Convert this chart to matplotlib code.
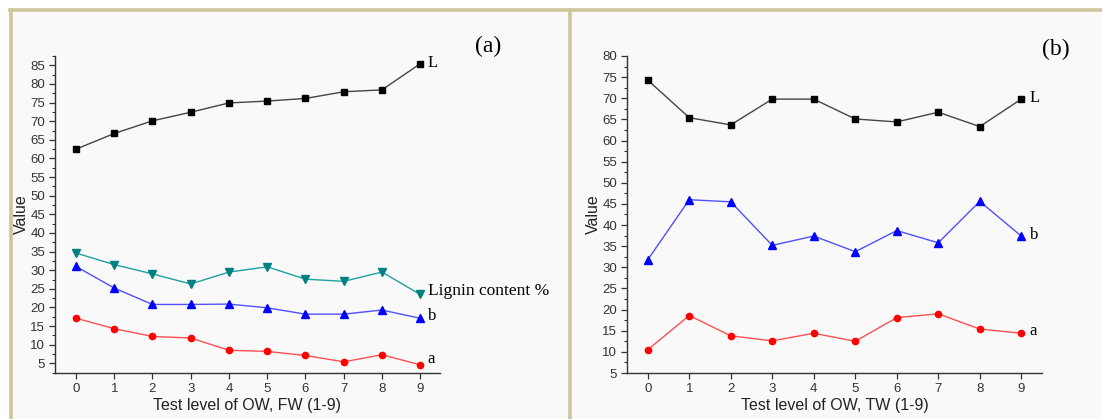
import matplotlib
matplotlib.use("Agg")
import matplotlib.pyplot as plt
from matplotlib.lines import Line2D
from matplotlib.ticker import MultipleLocator

# test levels shared by both panels
levels = [0, 1, 2, 3, 4, 5, 6, 7, 8, 9]

# panel (a): OW, FW
fw_L = [62.5, 66.7, 70.1, 72.4, 74.9, 75.4, 76.1, 77.9, 78.4, 85.4]
fw_lignin = [34.6, 31.5, 29.0, 26.3, 29.5, 30.9, 27.6, 27.0, 29.5, 23.5]
fw_b = [31.0, 25.2, 20.8, 20.8, 20.9, 19.9, 18.2, 18.2, 19.3, 17.1]
fw_a = [17.1, 14.3, 12.2, 11.8, 8.5, 8.2, 7.1, 5.4, 7.3, 4.6]

# panel (b): OW, TW
tw_L = [74.3, 65.4, 63.7, 69.8, 69.8, 65.1, 64.4, 66.7, 63.3, 69.8]
tw_b = [31.8, 46.0, 45.5, 35.2, 37.4, 33.7, 38.7, 35.8, 45.6, 37.4]
tw_a = [10.5, 18.6, 13.8, 12.6, 14.4, 12.5, 18.1, 19.0, 15.4, 14.4]

W, H = 1102, 419
fig = plt.figure(figsize=(W / 100, H / 100), dpi=100, facecolor="white")

# light panels with tan frame lines, kept behind the axes
bg = "#f9f9f9"
tan = "#cfc59c"
fig.add_artist(plt.Rectangle((10 / W, 0), (W - 10) / W, (H - 10) / H, zorder=-2,
                             transform=fig.transFigure, facecolor=bg, edgecolor="none"))
for xs, ys in [((10 / W, 1.0), (1 - 10 / H, 1 - 10 / H)),
               ((11 / W, 11 / W), (0, 1 - 10 / H)),
               ((570 / W, 570 / W), (0, 1 - 10 / H))]:
    fig.add_artist(Line2D(xs, ys, transform=fig.transFigure, color=tan, lw=2.6, zorder=-1))

serif = "Liberation Serif"
sans = "Liberation Sans"


def style_axes(ax, xlabel, ylim, yticks):
    ax.set_facecolor("none")
    for s in ["top", "right"]:
        ax.spines[s].set_visible(False)
    for s in ["left", "bottom"]:
        ax.spines[s].set_linewidth(1.0)
        ax.spines[s].set_color("#333333")
    ax.set_ylim(*ylim)
    ax.set_yticks(yticks)
    ax.yaxis.set_minor_locator(MultipleLocator(2.5))
    ax.set_xticks(levels)
    ax.tick_params(axis="both", which="major", direction="out", length=4,
                   width=0.9, labelsize=9.5, colors="#333333", pad=3)
    ax.tick_params(axis="y", which="minor", direction="out", length=2, width=0.8,
                   colors="#333333")
    for lab in ax.get_xticklabels() + ax.get_yticklabels():
        lab.set_family(sans)
    ax.set_xlabel(xlabel, fontsize=11.5, family=sans, color="#222222", labelpad=2)
    ax.set_ylabel("Value", fontsize=11.5, family=sans, color="#222222", labelpad=1)


def series(ax, y, marker, mcolor, lcolor, ms):
    ax.plot(levels, y, color=lcolor, lw=1.0, marker=marker, markersize=ms,
            markerfacecolor=mcolor, markeredgecolor=mcolor, clip_on=False)


# panel (a)
ax1 = fig.add_axes([55 / W, 1 - 373 / H, 385 / W, 317 / H])
series(ax1, fw_L, "s", "black", "#444444", 4.2)
series(ax1, fw_lignin, "v", "#008080", "#20a0a0", 5.5)
series(ax1, fw_b, "^", "#0000ff", "#5050ff", 5.5)
series(ax1, fw_a, "o", "#ff0000", "#ff5050", 4.5)
ax1.set_xlim(-0.55, 9.52)
style_axes(ax1, "Test level of OW, FW (1-9)", (2.4, 87.5), range(5, 90, 5))
ax1.text(9.2, fw_L[-1] + 0.3, "L", family=serif, fontsize=12, va="center")
ax1.text(9.2, fw_lignin[-1] + 0.8, "Lignin content %", family=serif, fontsize=12.5, va="center")
ax1.text(9.2, fw_b[-1] + 0.6, "b", family=serif, fontsize=12, va="center")
ax1.text(9.2, fw_a[-1] + 1.5, "a", family=serif, fontsize=12, va="center")
fig.text(488 / W, 1 - 46 / H, "(a)", family=serif, fontsize=17, ha="center", va="center")

# panel (b)
ax2 = fig.add_axes([627 / W, 1 - 373 / H, 415 / W, 317 / H])
series(ax2, tw_L, "s", "black", "#444444", 4.2)
series(ax2, tw_b, "^", "#0000ff", "#5050ff", 5.5)
series(ax2, tw_a, "o", "#ff0000", "#ff5050", 4.5)
ax2.set_xlim(-0.5, 9.5)
style_axes(ax2, "Test level of OW, TW (1-9)", (5, 80), range(5, 85, 5))
ax2.text(9.2, tw_L[-1] + 0.2, "L", family=serif, fontsize=12, va="center")
ax2.text(9.2, tw_b[-1] + 0.2, "b", family=serif, fontsize=12, va="center")
ax2.text(9.2, tw_a[-1] + 0.5, "a", family=serif, fontsize=12, va="center")
fig.text(1056 / W, 1 - 49 / H, "(b)", family=serif, fontsize=17, ha="center", va="center")

fig.savefig("out.png", dpi=100, facecolor=fig.get_facecolor())
